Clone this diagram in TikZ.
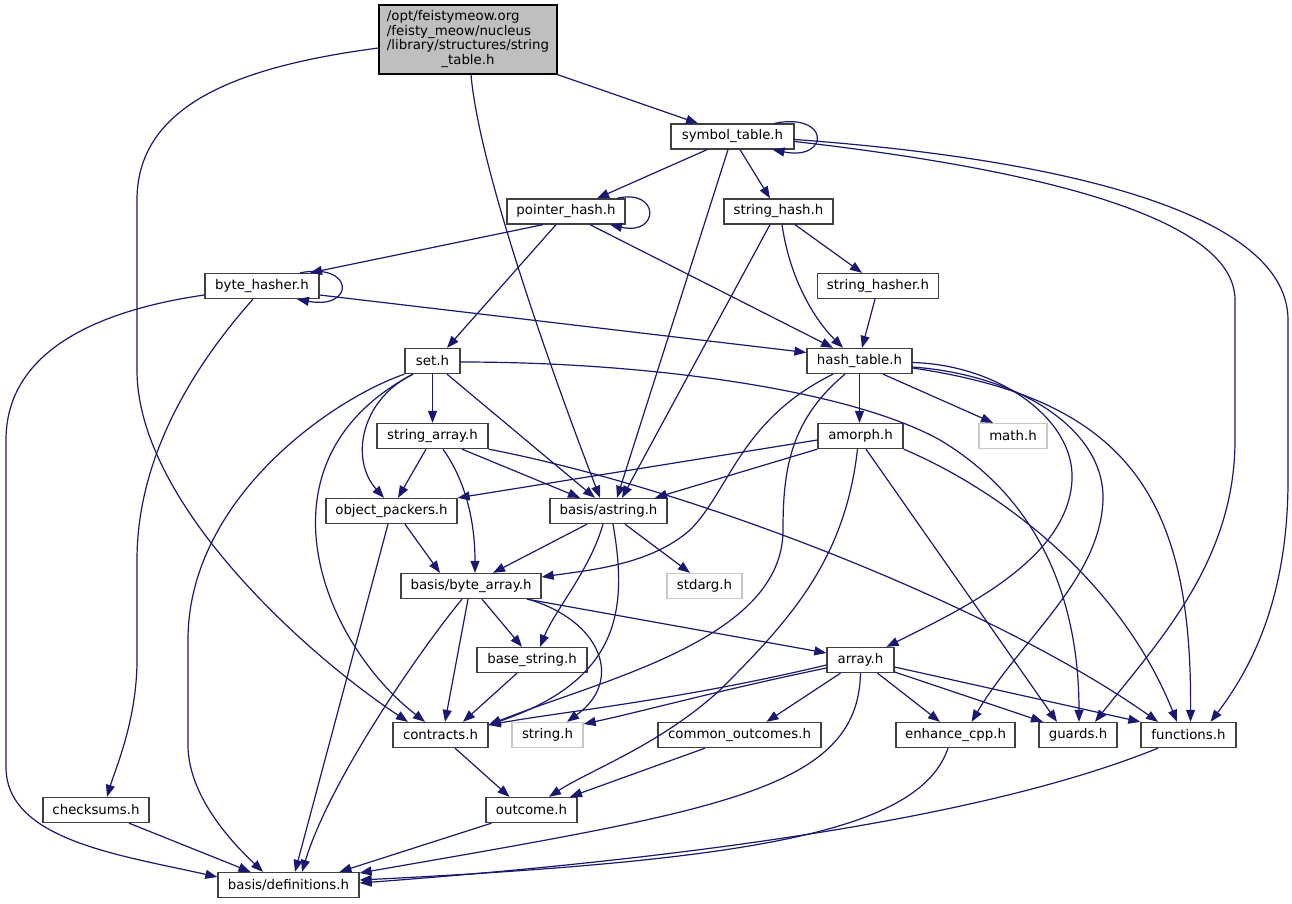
\documentclass[tikz,border=0pt]{standalone}
\usepackage{fontspec}
\setmainfont{DejaVu Sans}
\usetikzlibrary{arrows.meta,calc}
\definecolor{edgeblue}{HTML}{191970}
\definecolor{topfill}{HTML}{BFBFBF}
\definecolor{frame}{HTML}{404040}
\definecolor{lightframe}{HTML}{C8C8C8}
\newcommand{\fsz}{\fontsize{13.33pt}{14.5pt}\selectfont}
\begin{document}
\begin{tikzpicture}[x=1pt,y=-1pt,
  nbox/.style={draw=frame, line width=1.3pt, fill=white, inner sep=0pt, minimum height=25pt, font=\fsz},
  gbox/.style={nbox, draw=lightframe},
  conn/.style={draw=edgeblue, line width=1.2pt, -{Triangle[length=12pt,width=9pt]}},
]
\fill[white] (0,0) rectangle (1292,903);
\useasboundingbox (0,0) rectangle (1292,903);

% nodes
\node[nbox, fill=topfill, draw=black, minimum width=178pt, minimum height=69pt] (T) at (468,39.5)
  {\begin{tabular}{@{}l@{}}/opt/feistymeow.org\\/feisty\_meow/nucleus\\/library/structures/string\\\multicolumn{1}{@{}c@{}}{\_table.h}\end{tabular}};
\node[nbox, minimum width=123pt] (sym) at (732.5,136.5) {symbol\_table.h};
\node[nbox, minimum width=118pt] (ph) at (566,211.5) {pointer\_hash.h};
\node[nbox, minimum width=109pt] (sh) at (778.5,211.5) {string\_hash.h};
\node[nbox, minimum width=114pt] (bh) at (262,286) {byte\_hasher.h};
\node[nbox, minimum width=121pt] (shr) at (878,286) {string\_hasher.h};
\node[nbox, minimum width=55pt] (set) at (432.5,361) {set.h};
\node[nbox, minimum width=105pt] (ht) at (859.5,361) {hash\_table.h};
\node[nbox, minimum width=111pt] (sa) at (432.5,436) {string\_array.h};
\node[nbox, minimum width=85pt] (am) at (860.5,436) {amorph.h};
\node[gbox, minimum width=68pt] (math) at (1013,436) {math.h};
\node[nbox, minimum width=131pt] (op) at (391.5,511) {object\_packers.h};
\node[nbox, minimum width=117pt] (as) at (608.5,511) {basis/astring.h};
\node[nbox, minimum width=140pt] (ba) at (471,586) {basis/byte\_array.h};
\node[gbox, minimum width=75pt] (sd) at (704.5,586) {stdarg.h};
\node[nbox, minimum width=110pt] (bs) at (532,660) {base\_string.h};
\node[nbox, minimum width=67pt] (ar) at (860.5,660) {array.h};
\node[nbox, minimum width=95pt] (ct) at (440.5,735) {contracts.h};
\node[gbox, minimum width=71pt] (st) at (547.5,735) {string.h};
\node[nbox, minimum width=163pt] (co) at (739.5,735) {common\_outcomes.h};
\node[nbox, minimum width=119pt] (en) at (955.5,735) {enhance\_cpp.h};
\node[nbox, minimum width=78pt] (gu) at (1078,735) {guards.h};
\node[nbox, minimum width=95pt] (fn) at (1188.5,735) {functions.h};
\node[nbox, minimum width=106pt] (ck) at (96,810) {checksums.h};
\node[nbox, minimum width=91pt] (oc) at (531.5,810) {outcome.h};
\node[nbox, minimum width=141pt] (df) at (288.5,885) {basis/definitions.h};

% top node
\draw[conn] (T.south east) -- ([xshift=-34.5pt]sym.north);
\draw[conn] ([xshift=3pt]T.south) .. controls (480,180) and (570,420) .. ([xshift=-8.5pt]as.north);
\draw[conn] ([yshift=-8.5pt]T.west) .. controls (250,65) and (137,100) .. (137,200) -- (137,370)
  .. controls (137,500) and (300,650) .. ([xshift=-32.5pt]ct.north);

% symbol_table
\draw[conn] ([xshift=42pt]sym.north) .. controls (830,112) and (830,161) .. ([xshift=40pt]sym.south);
\draw[conn] ([xshift=-25.5pt]sym.south) -- ([xshift=31pt]ph.north);
\draw[conn] ([xshift=-4.5pt]sym.south) -- ([xshift=8.5pt]as.north);
\draw[conn] ([xshift=7.5pt]sym.south) -- ([xshift=-8.5pt]sh.north);
\draw[conn] ([yshift=-5pt]sym.east) .. controls (1000,165) and (1235,210) .. (1235,300) -- (1235,440)
  .. controls (1235,560) and (1160,640) .. ([xshift=17pt]gu.north);
\draw[conn] ([yshift=-3pt]sym.east) .. controls (1050,158) and (1288,210) .. (1288,320) -- (1288,480)
  .. controls (1288,600) and (1250,670) .. ([xshift=22pt]fn.north);

% pointer_hash
\draw[conn] ([xshift=51pt]ph.north) .. controls (660,188) and (660,236) .. ([xshift=44pt]ph.south);
\draw[conn] ([xshift=-23pt]ph.south) -- ([xshift=48pt]bh.north);
\draw[conn] ([xshift=-10pt]ph.south) -- ([xshift=14.5pt]set.north);
\draw[conn] ([xshift=24pt]ph.south) -- ([xshift=-26.5pt]ht.north);

% string_hash, string_hasher
\draw[conn] ([xshift=-8.5pt]sh.south) -- ([xshift=13.5pt]as.north);
\draw[conn] ([xshift=3.5pt]sh.south) .. controls (790,280) and (815,320) .. ([xshift=-16.5pt]ht.north);
\draw[conn] ([xshift=16.5pt]sh.south) -- ([xshift=-16pt]shr.north);
\draw[conn] ([xshift=-3pt]shr.south) -- ([xshift=2.5pt]ht.north);

% byte_hasher
\draw[conn] ([xshift=38pt]bh.north) .. controls (355,262) and (355,310) .. ([xshift=35pt]bh.south);
\draw[conn] ([yshift=-9pt]bh.east) -- ([yshift=8.5pt]ht.west);
\draw[conn] ([xshift=-9pt]bh.south) .. controls (190,370) and (137,460) .. (137,560) -- (137,660)
  .. controls (137,720) and (115,770) .. ([xshift=11pt]ck.north);
\draw[conn] ([yshift=-9pt]bh.west) .. controls (100,310) and (6,350) .. (6,440) -- (6,767)
  .. controls (6,840) and (120,855) .. ([yshift=8pt]df.west);

% set
\draw[conn] (set.south) -- (sa.north);
\draw[conn] ([xshift=14.5pt]set.south) -- ([xshift=-13.5pt]as.north);
\draw[conn] ([xshift=-19.5pt]set.south) .. controls (360,400) and (350,460) .. ([xshift=-7.5pt]op.north);
\draw[conn] ([xshift=-19.5pt]set.south) .. controls (250,460) and (320,640) .. ([xshift=-15.5pt]ct.north);
\draw[conn] (set.south west) .. controls (330,400) and (188,500) .. (188,640) -- (188,745)
  .. controls (188,800) and (240,850) .. ([xshift=-25.5pt]df.north);
\draw[conn] ([yshift=-1pt]set.east) .. controls (650,362) and (850,390) .. (940,440)
  .. controls (1040,500) and (1079,600) .. ([xshift=1pt]gu.north);

% string_array
\draw[conn] ([xshift=-6.5pt]sa.south) -- ([xshift=6.5pt]op.north);
\draw[conn] ([xshift=29.5pt]sa.south) -- ([xshift=-28.5pt]as.north);
\draw[conn] ([xshift=10.5pt]sa.south) .. controls (465,480) and (475,520) .. ([xshift=4pt]ba.north);
\draw[conn] (sa.south east) .. controls (700,490) and (1000,610) .. ([xshift=-30.5pt]fn.north);

% hash_table
\draw[conn] (ht.south) -- (ht.south |- am.north);
\draw[conn] ([xshift=23.5pt]ht.south) -- ([xshift=-20pt]math.north);
\draw[conn] ([xshift=-26.5pt]ht.south) .. controls (740,420) and (730,490) .. (690,530)
  .. controls (650,565) and (590,570) .. ([yshift=9pt]ba.east);
\draw[conn] ([xshift=-14.5pt]ht.south) .. controls (790,420) and (783,470) .. (783,530)
  .. controls (783,640) and (600,680) .. ([yshift=10pt]ct.east);
\draw[conn] ([yshift=-1.5pt]ht.east) .. controls (1000,365) and (1075,420) .. (1072,480)
  .. controls (1068,560) and (960,610) .. ([xshift=26pt]ar.north);
\draw[conn] ([yshift=-6pt]ht.east) .. controls (1020,375) and (1105,430) .. (1103,500)
  .. controls (1100,580) and (1020,640) .. ([xshift=16pt]en.north);
\draw[conn] ([yshift=-7pt]ht.east) .. controls (1130,400) and (1192,500) .. ([xshift=2pt]fn.north);

% amorph
\draw[conn] ([yshift=-4pt]am.west) -- (op.north east);
\draw[conn] (am.south west) -- ([xshift=46.5pt]as.north);
\draw[conn] ([xshift=-3pt]am.south) .. controls (845,560) and (790,620) .. (720,690)
  .. controls (660,745) and (590,770) .. ([xshift=17.5pt]oc.north);
\draw[conn] ([xshift=5.5pt]am.south) -- ([xshift=-21pt]gu.north);
\draw[conn] (am.south east) .. controls (1000,490) and (1120,580) .. ([xshift=-11.5pt]fn.north);

% object_packers
\draw[conn] ([xshift=13.5pt]op.south) -- ([xshift=-31pt]ba.north);
\draw[conn] ([xshift=-3.5pt]op.south) -- ([xshift=6.5pt]df.north);

% astring
\draw[conn] ([xshift=-21.5pt]as.south) -- ([xshift=22pt]ba.north);
\draw[conn] ([xshift=16.5pt]as.south) -- ([xshift=-14.5pt]sd.north);
\draw[conn] ([xshift=-5.5pt]as.south) .. controls (590,570) and (555,610) .. ([xshift=8pt]bs.north);
\draw[conn] ([xshift=4.5pt]as.south) .. controls (628,610) and (620,680) .. ([yshift=10pt]ct.east);

% byte_array
\draw[conn] ([xshift=11pt]ba.south) -- ([xshift=-10pt]bs.north);
\draw[conn] ([xshift=-3pt]ba.south) -- ([xshift=4.5pt]ct.north);
\draw[conn] ([xshift=56pt]ba.south) -- ([yshift=7pt]ar.west);
\draw[conn] ([xshift=57pt]ba.south) .. controls (600,620) and (625,680) .. ([xshift=19.5pt]st.north);
\draw[conn] ([xshift=-9pt]ba.south) .. controls (420,650) and (330,780) .. ([xshift=13.5pt]df.north);

% base_string
\draw[conn] ([xshift=-15pt]bs.south) -- ([xshift=22.5pt]ct.north);

% array
\draw[conn] ([yshift=-5pt]ar.west) .. controls (680,700) and (560,712) .. ([yshift=10pt]ct.east);
\draw[conn] ([yshift=-8pt]ar.west) .. controls (720,690) and (640,712) .. ([yshift=11pt]st.east);
\draw[conn] ([xshift=-20pt]ar.south) -- ([xshift=27pt]co.north);
\draw[conn] (ar.south) .. controls (858,790) and (720,810) .. ([yshift=12pt]df.east);
\draw[conn] ([xshift=17pt]ar.south) -- ([xshift=-15.5pt]en.north);
\draw[conn] ([yshift=-12pt]ar.east) -- ([xshift=-35pt]gu.north);
\draw[conn] ([yshift=-7pt]ar.east) -- (fn.north west);

% lower
\draw[conn] ([xshift=14.5pt]ct.south) -- ([xshift=-22pt]oc.north);
\draw[conn] ([xshift=-34.5pt]co.south) -- ([xshift=38.5pt]oc.north);
\draw[conn] ([xshift=-7.5pt]en.south) .. controls (920,830) and (760,860) .. ([yshift=5pt]df.east);
\draw[conn] ([xshift=-30.5pt]fn.south) .. controls (1030,800) and (800,850) .. ([yshift=2pt]df.east);
\draw[conn] ([xshift=33pt]ck.south) -- ([xshift=-38pt]df.north);
\draw[conn] ([xshift=-40pt]oc.south) -- ([xshift=51pt]df.north);
\end{tikzpicture}
\end{document}
